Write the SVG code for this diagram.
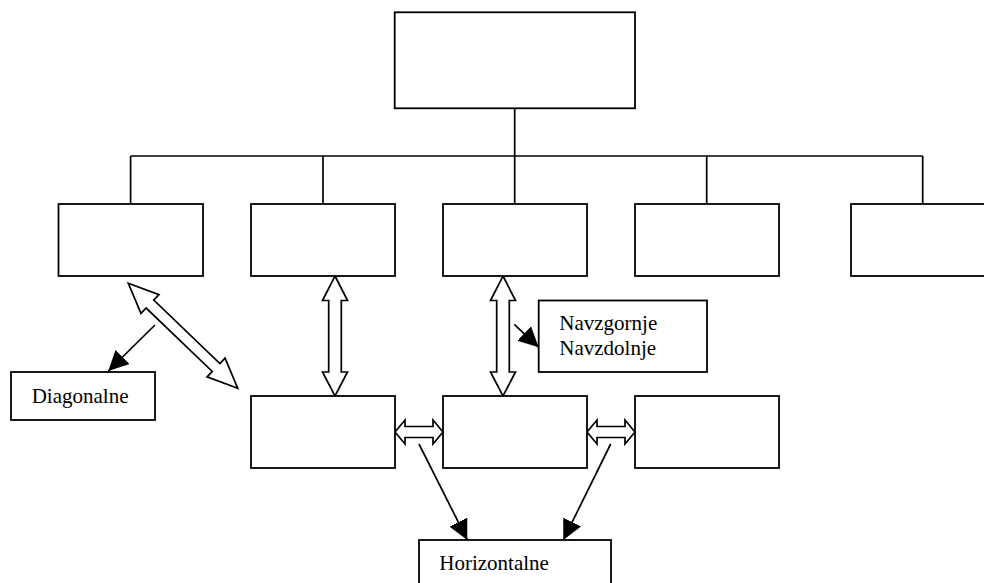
<svg xmlns="http://www.w3.org/2000/svg" width="984" height="583" viewBox="0 0 984 583">
<style>
.box{fill:#fff;stroke:#000;stroke-width:1.8}
.ln{fill:none;stroke:#000;stroke-width:1.7}
.dbl{fill:#fff;stroke:#000;stroke-width:1.7;stroke-linejoin:miter}
.t{font-family:"Liberation Serif","Times New Roman",serif;font-size:21px;fill:#000}
</style>
<defs>
<marker id="ah" markerUnits="userSpaceOnUse" markerWidth="20" markerHeight="20" viewBox="0 0 20 20" refX="20" refY="10" orient="auto">
<path d="M0,0 L20,10 L0,20 z" fill="#000"/>
</marker>
</defs>
<rect width="984" height="583" fill="#fff"/>
<g id="connectors">
<path class="ln" d="M514.7,108.3 V156 M130.6,156 H922.7 M130.6,156 V204 M323,156 V204 M514.7,156 V204 M706.7,156 V204 M922.7,156 V204"/>
<polygon class="dbl" points="335,276 347.5,300.5 341.3,300.5 341.3,372 347.5,372 335,396 322.5,372 328.7,372 328.7,300.5 322.5,300.5"/>
<polygon class="dbl" points="503,276 515.5,300.5 509.3,300.5 509.3,372 515.5,372 503,396 490.5,372 496.7,372 496.7,300.5 490.5,300.5"/>
<polygon class="dbl" points="395,432 405,420 405,426.5 433,426.5 433,420 443,432 433,444 433,437.5 405,437.5 405,444"/>
<polygon class="dbl" points="587,432 597,420 597,426.5 625,426.5 625,420 635,432 625,444 625,437.5 597,437.5 597,444"/>
<polygon class="dbl" transform="translate(128.3,283.3) rotate(43.8)" points="0,0 30,-13 30,-5.5 121.6,-5.5 121.6,-13 151.6,0 121.6,13 121.6,5.5 30,5.5 30,13"/>
<line class="ln" x1="155" y1="325" x2="108.3" y2="371" marker-end="url(#ah)"/>
<line class="ln" x1="514.3" y1="324.3" x2="538.7" y2="347.3" marker-end="url(#ah)"/>
<line class="ln" x1="419" y1="444" x2="467.3" y2="540" marker-end="url(#ah)"/>
<line class="ln" x1="610.7" y1="444" x2="563.3" y2="540" marker-end="url(#ah)"/>
</g>
<g id="top"><rect class="box" x="394.7" y="12.3" width="240.3" height="96"/></g>
<g id="b1"><rect class="box" x="58.5" y="204" width="144.5" height="72"/></g>
<g id="b2"><rect class="box" x="251" y="204" width="144" height="72"/></g>
<g id="b3"><rect class="box" x="443" y="204" width="144" height="72"/></g>
<g id="b4"><rect class="box" x="635" y="204" width="144" height="72"/></g>
<g id="b5"><rect class="box" x="851" y="204" width="144" height="72"/></g>
<g id="lA"><rect class="box" x="251" y="396" width="144" height="72"/></g>
<g id="lB"><rect class="box" x="443" y="396" width="144" height="72"/></g>
<g id="lC"><rect class="box" x="635" y="396" width="144" height="72"/></g>
<g id="diag"><rect class="box" x="11" y="372" width="144" height="48"/><text class="t" x="31.7" y="403">Diagonalne</text></g>
<g id="navz"><rect class="box" x="538.7" y="300.5" width="168.3" height="71.5"/><text class="t" x="559.3" y="330">Navzgornje</text><text class="t" x="559.3" y="355">Navzdolnje</text></g>
<g id="horiz"><rect class="box" x="419" y="540" width="192" height="60"/><text class="t" x="439.3" y="570">Horizontalne</text></g>
</svg>
